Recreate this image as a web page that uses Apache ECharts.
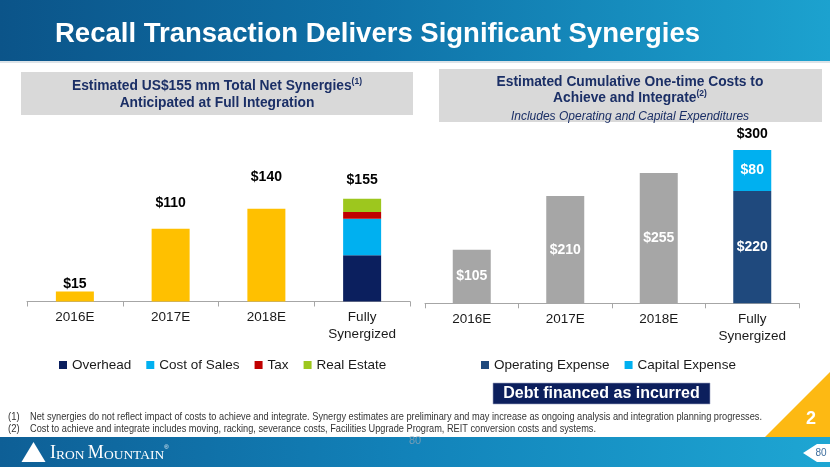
<!DOCTYPE html>
<html><head><meta charset="utf-8">
<script src="https://cdn.jsdelivr.net/npm/echarts@6/dist/echarts.min.js"></script>
<style>html,body{margin:0;padding:0;background:#fff}#c{width:830px;height:467px}</style>
</head><body><div id="c"></div>
<script>
// ---------- data ----------
const categories = ['2016E', '2017E', '2018E', 'Fully\nSynergized'];
// left chart: estimated net synergies (US$ mm)
const synergyYearly = [15, 110, 140, null];
const overhead = [null, null, null, 70];
const costOfSales = [null, null, null, 55];
const tax = [null, null, null, 10];
const realEstate = [null, null, null, 20];
const synergyTotal = [15, 110, 140, 155];
// right chart: cumulative one-time costs (US$ mm)
const costCumulative = [105, 210, 255, null];
const operatingExpense = [null, null, null, 220];
const capitalExpense = [null, null, null, 80];
const costTotal = [null, null, null, 300];
const leftLegend = ['Overhead', 'Cost of Sales', 'Tax', 'Real Estate'];
const rightLegend = ['Operating Expense', 'Capital Expense'];
const titleText = 'Recall Transaction Delivers Significant Synergies';
const footnote1 = 'Net synergies do not reflect impact of costs to achieve and integrate. Synergy estimates are preliminary and may increase as ongoing analysis and integration planning progresses.';
const footnote2 = 'Cost to achieve and integrate includes moving, racking, severance costs, Facilities Upgrade Program, REIT conversion costs and systems.';

// ---------- helpers ----------
const FONT = '"Liberation Sans", Arial, Helvetica, sans-serif';
const NAVY = '#1B2F66';
const fix = a => a.map(v => (v == null ? '-' : v));
const money = p => '$' + p.value;
function measure(text, font) {
  const ctx = document.createElement('canvas').getContext('2d');
  ctx.font = font;
  return ctx.measureText(text).width;
}
const fnFont = '10.5px "Liberation Sans", Arial, sans-serif';
const fn1Scale = 732 / measure(footnote1, fnFont);
const fn2Scale = 566 / measure(footnote2, fnFont);

const leftLift = [0, 18, 25, 12];
const barBase = { type: 'bar', barWidth: 38, barGap: '-100%', emphasis: { disabled: true } };

const chart = echarts.init(document.getElementById('c'), null, { renderer: 'canvas' });

const option = {
  animation: false,
  backgroundColor: '#fff',
  textStyle: { fontFamily: FONT },
  grid: [
    { left: 27, width: 383, top: 169, height: 132.5 },
    { left: 425, width: 374, top: 150, height: 153.3 }
  ],
  xAxis: [0, 1].map(i => ({
    type: 'category', gridIndex: i, data: categories,
    axisLine: { show: true, lineStyle: { color: '#A6A6A6', width: 1 } },
    axisTick: { show: true, inside: false, alignWithLabel: false, interval: 0, length: 5, lineStyle: { color: '#A6A6A6', width: 1 } },
    axisLabel: { color: '#1a1a1a', fontSize: 13.5, lineHeight: 17, margin: 7, fontFamily: FONT }
  })),
  yAxis: [
    { type: 'value', gridIndex: 0, min: 0, max: 200, show: false },
    { type: 'value', gridIndex: 1, min: 0, max: 300, show: false }
  ],
  legend: [
    { data: leftLegend, left: 54, top: 353, icon: 'rect', itemWidth: 8, itemHeight: 8, itemGap: 15,
      textStyle: { fontSize: 13.5, color: '#1a1a1a', fontFamily: FONT }, selectedMode: false },
    { data: rightLegend, left: 476, top: 353, icon: 'rect', itemWidth: 8, itemHeight: 8, itemGap: 15,
      textStyle: { fontSize: 13.5, color: '#1a1a1a', fontFamily: FONT }, selectedMode: false }
  ],
  series: [
    Object.assign({}, barBase, { name: 'Synergies', xAxisIndex: 0, yAxisIndex: 0, stack: 'L', data: fix(synergyYearly), itemStyle: { color: '#FFC000' } }),
    Object.assign({}, barBase, { name: 'Overhead', xAxisIndex: 0, yAxisIndex: 0, stack: 'L', data: fix(overhead), itemStyle: { color: '#0B1F5E' } }),
    Object.assign({}, barBase, { name: 'Cost of Sales', xAxisIndex: 0, yAxisIndex: 0, stack: 'L', data: fix(costOfSales), itemStyle: { color: '#00B0F0' } }),
    Object.assign({}, barBase, { name: 'Tax', xAxisIndex: 0, yAxisIndex: 0, stack: 'L', data: fix(tax), itemStyle: { color: '#C00000' } }),
    Object.assign({}, barBase, { name: 'Real Estate', xAxisIndex: 0, yAxisIndex: 0, stack: 'L', data: fix(realEstate), itemStyle: { color: '#9DC71E' } }),
    Object.assign({}, barBase, {
      name: 'Total synergies', xAxisIndex: 0, yAxisIndex: 0, z: 5,
      itemStyle: { color: 'rgba(0,0,0,0)' },
      data: synergyTotal.map((v, i) => ({ value: v, label: { distance: leftLift[i] } })),
      label: { show: true, position: 'top', formatter: money, color: '#000', fontWeight: 'bold', fontSize: 14, fontFamily: FONT }
    }),
    Object.assign({}, barBase, {
      name: 'Cumulative', xAxisIndex: 1, yAxisIndex: 1, stack: 'R', data: fix(costCumulative),
      itemStyle: { color: '#A6A6A6' },
      label: { show: true, position: 'inside', formatter: money, color: '#fff', fontWeight: 'bold', fontSize: 14, fontFamily: FONT }
    }),
    Object.assign({}, barBase, {
      name: 'Operating Expense', xAxisIndex: 1, yAxisIndex: 1, stack: 'R', data: fix(operatingExpense),
      itemStyle: { color: '#1F497D' },
      label: { show: true, position: 'inside', formatter: money, color: '#fff', fontWeight: 'bold', fontSize: 14, fontFamily: FONT }
    }),
    Object.assign({}, barBase, {
      name: 'Capital Expense', xAxisIndex: 1, yAxisIndex: 1, stack: 'R', data: fix(capitalExpense),
      itemStyle: { color: '#00B0F0' },
      label: { show: true, position: 'inside', formatter: money, color: '#fff', fontWeight: 'bold', fontSize: 14, fontFamily: FONT }
    }),
    Object.assign({}, barBase, {
      name: 'Total cost', xAxisIndex: 1, yAxisIndex: 1, z: 5, data: fix(costTotal),
      itemStyle: { color: 'rgba(0,0,0,0)' },
      label: { show: true, position: 'top', distance: 9, formatter: money, color: '#000', fontWeight: 'bold', fontSize: 14, fontFamily: FONT }
    })
  ],
  graphic: [
    // top banner
    { type: 'rect', shape: { x: 0, y: 0, width: 830, height: 61 }, z: 0,
      style: { fill: { type: 'linear', x: 0, y: 0, x2: 1, y2: 0, colorStops: [
        { offset: 0, color: '#0B5489' }, { offset: 0.45, color: '#0F72A8' }, { offset: 1, color: '#1CA2CF' }] } } },
    { type: 'rect', shape: { x: 0, y: 61, width: 830, height: 2 }, z: 0, style: { fill: '#DCE3E8' } },
    { type: 'text', x: 55, y: 34, z: 10,
      style: { text: titleText, font: 'bold 27.5px ' + FONT, fill: '#fff', verticalAlign: 'middle', align: 'left' } },

    // left header
    { type: 'rect', shape: { x: 21, y: 72, width: 392, height: 43 }, z: 0, style: { fill: '#D9D9D9' } },
    { type: 'text', x: 217, y: 86, z: 10,
      style: { text: '{t|Estimated US$155 mm Total Net Synergies}{s|(1)}', align: 'center', verticalAlign: 'middle',
        rich: { t: { fontSize: 13.8, fontWeight: 'bold', fontFamily: FONT, fill: NAVY, lineHeight: 17 },
                s: { fontSize: 8.5, fontWeight: 'bold', fontFamily: FONT, fill: NAVY, verticalAlign: 'top', lineHeight: 17 } } } },
    { type: 'text', x: 217, y: 103, z: 10,
      style: { text: 'Anticipated at Full Integration', align: 'center', verticalAlign: 'middle',
        font: 'bold 13.8px ' + FONT, fill: NAVY } },

    // right header
    { type: 'rect', shape: { x: 439, y: 69, width: 383, height: 53 }, z: 0, style: { fill: '#D9D9D9' } },
    { type: 'text', x: 630, y: 82, z: 10,
      style: { text: 'Estimated Cumulative One-time Costs to', align: 'center', verticalAlign: 'middle',
        font: 'bold 13.8px ' + FONT, fill: NAVY } },
    { type: 'text', x: 630, y: 98, z: 10,
      style: { text: '{t|Achieve and Integrate}{s|(2)}', align: 'center', verticalAlign: 'middle',
        rich: { t: { fontSize: 13.8, fontWeight: 'bold', fontFamily: FONT, fill: NAVY, lineHeight: 17 },
                s: { fontSize: 8.5, fontWeight: 'bold', fontFamily: FONT, fill: NAVY, verticalAlign: 'top', lineHeight: 17 } } } },
    { type: 'text', x: 630, y: 117, z: 10,
      style: { text: 'Includes Operating and Capital Expenditures', align: 'center', verticalAlign: 'middle',
        font: 'italic 12px ' + FONT, fill: NAVY } },

    // debt box
    { type: 'rect', shape: { x: 493, y: 383, width: 217, height: 21 }, z: 0,
      style: { fill: '#0C1F5D', stroke: '#9AA3BF', lineWidth: 0.6 } },
    { type: 'text', x: 601.5, y: 393.5, z: 10,
      style: { text: 'Debt financed as incurred', align: 'center', verticalAlign: 'middle',
        font: 'bold 16px ' + FONT, fill: '#fff' } },

    // footnotes
    { type: 'text', x: 8, y: 417.5, z: 10, scaleX: 0.9,
      style: { text: '(1)', font: fnFont, fill: '#333', verticalAlign: 'middle' } },
    { type: 'text', x: 30, y: 417.5, z: 10, scaleX: fn1Scale,
      style: { text: footnote1, font: fnFont, fill: '#333', verticalAlign: 'middle' } },
    { type: 'text', x: 8, y: 429.5, z: 10, scaleX: 0.9,
      style: { text: '(2)', font: fnFont, fill: '#333', verticalAlign: 'middle' } },
    { type: 'text', x: 30, y: 429.5, z: 10, scaleX: fn2Scale,
      style: { text: footnote2, font: fnFont, fill: '#333', verticalAlign: 'middle' } },

    // slide number triangle
    { type: 'polygon', z: 1, shape: { points: [[765, 437], [830, 372], [830, 437]] }, style: { fill: '#FDB913' } },
    { type: 'text', x: 811, y: 419, z: 10,
      style: { text: '2', align: 'center', verticalAlign: 'middle', font: 'bold 18px ' + FONT, fill: '#fff' } },

    // bottom banner
    { type: 'rect', shape: { x: 0, y: 437, width: 830, height: 30 }, z: 0,
      style: { fill: { type: 'linear', x: 0, y: 0, x2: 1, y2: 0, colorStops: [
        { offset: 0, color: '#0E5F96' }, { offset: 0.5, color: '#1283BA' }, { offset: 1, color: '#1EA6D3' }] } } },
    { type: 'text', x: 415, y: 441, z: 10,
      style: { text: '80', align: 'center', verticalAlign: 'middle', font: '11px ' + FONT, fill: 'rgba(150,165,180,0.75)' } },
    // logo
    { type: 'polygon', z: 5, shape: { points: [[33.5, 442], [21.5, 462], [45.5, 462]] }, style: { fill: '#fff' } },
    { type: 'text', x: 50, y: 462, z: 10,
      style: { text: '{b|I}{s|RON }{b|M}{s|OUNTAIN}{r|®}', align: 'left', verticalAlign: 'bottom',
        rich: {
          b: { fontSize: 18, fontFamily: '"Liberation Serif", "Times New Roman", serif', fill: '#fff', verticalAlign: 'bottom' },
          s: { fontSize: 13.5, fontFamily: '"Liberation Serif", "Times New Roman", serif', fill: '#fff', verticalAlign: 'bottom' },
          r: { fontSize: 6, fontFamily: FONT, fill: '#fff', verticalAlign: 'top' }
        } } },
    // page tag
    { type: 'polygon', z: 5, shape: { points: [[803, 453], [817, 444], [830, 444], [830, 462], [817, 462]] }, style: { fill: '#fff' } },
    { type: 'text', x: 821, y: 453, z: 10,
      style: { text: '80', align: 'center', verticalAlign: 'middle', font: '10px ' + FONT, fill: '#3D6E9E' } }
  ]
};
chart.setOption(option);
</script>
</body></html>
